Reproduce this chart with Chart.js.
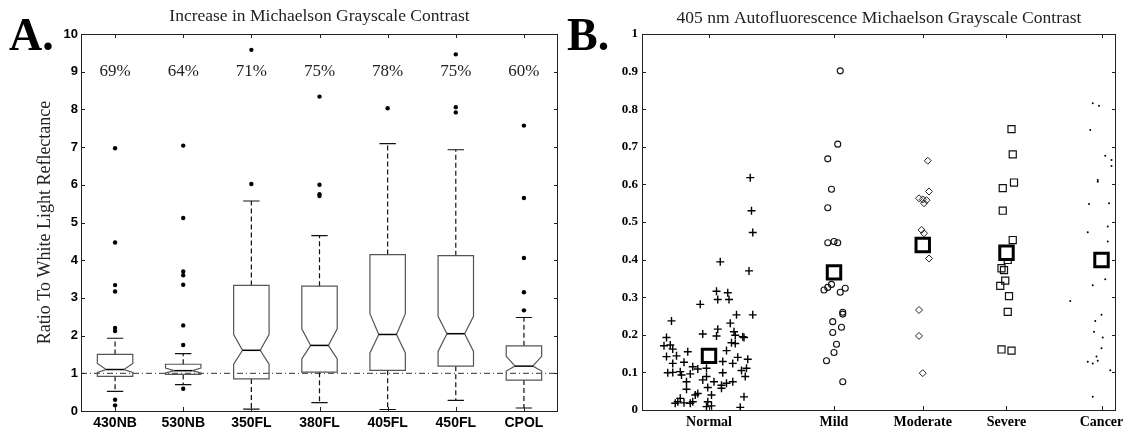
<!DOCTYPE html>
<html>
<head>
<meta charset="utf-8">
<script src="https://cdn.jsdelivr.net/npm/chart.js@4.4.0/dist/chart.umd.min.js"></script>
<style>
  html, body { margin: 0; padding: 0; background: #fff; }
  #wrap { position: relative; width: 1130px; height: 432px; }
  .panel { position: absolute; top: 0; width: 565px; height: 432px; }
  #panelA { left: 0; }
  #panelB { left: 565px; }
</style>
</head>
<body>
<div id="wrap">
  <div class="panel" id="panelA"><canvas id="chartA"></canvas></div>
  <div class="panel" id="panelB"><canvas id="chartB"></canvas></div>
</div>
<script>
// Panel A: notched box plots (ratio to white light reflectance)
const boxLabels = ['430NB', '530NB', '350FL', '380FL', '405FL', '450FL', 'CPOL'];
const pctLabels = ['69%', '64%', '71%', '75%', '78%', '75%', '60%'];
const q1 = [0.92, 0.97, 0.85, 1.03, 1.08, 1.19, 0.82];
const median = [1.10, 1.07, 1.61, 1.74, 2.03, 2.05, 1.19];
const q3 = [1.50, 1.24, 3.33, 3.31, 4.15, 4.12, 1.73];
const notchLo = [1.02, 1.01, 1.24, 1.38, 1.54, 1.58, 1.06];
const notchHi = [1.26, 1.14, 2.03, 2.18, 2.58, 2.51, 1.45];
const whiskerLo = [0.52, 0.70, 0.05, 0.22, 0.04, 0.28, 0.08];
const whiskerHi = [1.93, 1.52, 5.57, 4.65, 7.09, 6.93, 2.48];
const outliers = [
  [6.97, 4.47, 3.34, 3.17, 2.20, 2.12, 0.30, 0.15],
  [7.04, 5.12, 3.70, 3.60, 3.35, 2.27, 1.75, 0.59],
  [9.58, 6.02],
  [8.34, 6.00, 5.75, 5.70],
  [8.03],
  [9.46, 8.06, 7.92],
  [7.57, 5.65, 4.06, 3.15, 2.67]
];

// Panel B: 405 nm autofluorescence contrast per group
const groupNames = ['Normal', 'Mild', 'Moderate', 'Severe', 'Cancer'];
const groupX = [1, 2, 2.71, 3.38, 4.14];
const groupMean = [0.144, 0.366, 0.439, 0.418, 0.399];
const normalPts = [
  [1.33, 0.618], [1.34, 0.530], [1.35, 0.472], [1.09, 0.394], [1.32, 0.370], [1.06, 0.316],
  [1.15, 0.312], [1.07, 0.294], [1.16, 0.294], [0.93, 0.281], [0.70, 0.237], [1.22, 0.253],
  [1.35, 0.253], [1.17, 0.231], [1.07, 0.215], [0.95, 0.202], [1.06, 0.197], [1.20, 0.208],
  [1.21, 0.199], [1.27, 0.195], [1.28, 0.193], [0.66, 0.193], [0.64, 0.171], [0.69, 0.173],
  [0.71, 0.162], [1.21, 0.177], [1.18, 0.179], [1.14, 0.158], [0.83, 0.155], [0.74, 0.144],
  [0.66, 0.142], [1.23, 0.140], [1.31, 0.135], [1.11, 0.129], [0.71, 0.124], [0.80, 0.127],
  [1.19, 0.124], [0.87, 0.115], [0.91, 0.109], [0.98, 0.111], [1.11, 0.099], [1.26, 0.105],
  [1.30, 0.111], [0.67, 0.099], [0.71, 0.100], [0.77, 0.102], [0.78, 0.093], [0.85, 0.096],
  [1.29, 0.089], [0.98, 0.089], [0.95, 0.080], [0.82, 0.075], [1.04, 0.075], [1.19, 0.075],
  [1.14, 0.071], [1.10, 0.066], [0.99, 0.060], [1.10, 0.058], [0.82, 0.055], [1.28, 0.035],
  [0.91, 0.044], [0.89, 0.040], [1.02, 0.040], [0.77, 0.031], [0.75, 0.022], [0.80, 0.019],
  [0.85, 0.018], [0.87, 0.022], [0.73, 0.018], [0.99, 0.022], [0.98, 0.009], [1.02, 0.011],
  [1.25, 0.007]
];
const mildPts = [
  [2.05, 0.902], [2.03, 0.707], [1.95, 0.668], [1.98, 0.587], [1.95, 0.538], [1.95, 0.445],
  [2.00, 0.448], [2.03, 0.445], [1.92, 0.319], [1.95, 0.326], [1.98, 0.334], [2.05, 0.313],
  [2.09, 0.324], [2.07, 0.260], [2.07, 0.255], [1.99, 0.235], [2.06, 0.220], [1.99, 0.206],
  [2.02, 0.175], [2.00, 0.153], [1.94, 0.131], [2.07, 0.075]
];
const moderatePts = [
  [2.75, 0.663], [2.76, 0.581], [2.68, 0.563], [2.71, 0.560], [2.74, 0.558], [2.72, 0.550],
  [2.70, 0.479], [2.72, 0.470], [2.76, 0.403], [2.68, 0.266], [2.68, 0.197], [2.71, 0.098]
];
const severePts = [
  [3.42, 0.747], [3.43, 0.680], [3.44, 0.605], [3.35, 0.590], [3.35, 0.530], [3.43, 0.452],
  [3.39, 0.399], [3.34, 0.377], [3.36, 0.372], [3.37, 0.344], [3.33, 0.330], [3.40, 0.303],
  [3.39, 0.261], [3.34, 0.161], [3.42, 0.158]
];
const cancerPts = [
  [4.07, 0.816], [4.12, 0.809], [4.05, 0.745], [4.17, 0.676], [4.22, 0.665], [4.22, 0.649],
  [4.11, 0.612], [4.11, 0.607], [4.04, 0.548], [4.20, 0.550], [4.03, 0.473], [4.19, 0.488],
  [4.19, 0.448], [4.07, 0.332], [4.17, 0.348], [3.89, 0.290], [4.14, 0.253], [4.09, 0.237],
  [4.08, 0.208], [4.15, 0.193], [4.14, 0.164], [4.10, 0.142], [4.03, 0.128], [4.07, 0.124],
  [4.11, 0.131], [4.21, 0.106], [4.07, 0.035]
];

const SERIF = '"Liberation Serif", "Times New Roman", serif';
const SANS = '"Liberation Sans", Arial, sans-serif';

const toXY = pts => pts.map(p => ({ x: p[0], y: p[1] }));

// box around the plot with MATLAB-style inward ticks
const framePlugin = {
  id: 'frame',
  afterDraw(chart) {
    const { ctx, chartArea: a, scales: { x, y } } = chart;
    ctx.save();
    ctx.strokeStyle = '#222';
    ctx.lineWidth = 1;
    ctx.strokeRect(a.left + 0.5, a.top + 0.5, a.right - a.left - 1, a.bottom - a.top);
    ctx.beginPath();
    y.ticks.forEach(t => {
      const p = Math.round(y.getPixelForValue(t.value)) + 0.5;
      ctx.moveTo(a.left, p); ctx.lineTo(a.left + 4, p);
      ctx.moveTo(a.right, p); ctx.lineTo(a.right - 4, p);
    });
    x.ticks.forEach(t => {
      const p = Math.round(x.getPixelForValue(t.value)) + 0.5;
      ctx.moveTo(p, a.top); ctx.lineTo(p, a.top + 4);
      ctx.moveTo(p, a.bottom); ctx.lineTo(p, a.bottom - 4);
    });
    ctx.stroke();
    ctx.restore();
  }
};

const boxPlugin = {
  id: 'boxes',
  beforeDatasetsDraw(chart) {
    const { ctx, chartArea: a, scales: { x, y } } = chart;
    const unit = x.getPixelForValue(1) - x.getPixelForValue(0);
    const hw = unit * 0.26, capW = unit * 0.12, inset = hw * 0.5;
    const py = v => y.getPixelForValue(v);
    ctx.save();
    // reference line at ratio = 1
    ctx.strokeStyle = '#333';
    ctx.lineWidth = 1;
    ctx.setLineDash([6, 3, 1, 3]);
    ctx.beginPath();
    ctx.moveTo(a.left, py(1)); ctx.lineTo(a.right, py(1));
    ctx.stroke();

    boxLabels.forEach((_, i) => {
      const cx = x.getPixelForValue(i + 1);
      // whiskers
      ctx.strokeStyle = '#111';
      ctx.lineWidth = 1.2;
      ctx.setLineDash([5, 3]);
      ctx.beginPath();
      ctx.moveTo(cx, py(q3[i])); ctx.lineTo(cx, py(whiskerHi[i]));
      ctx.moveTo(cx, py(q1[i])); ctx.lineTo(cx, py(whiskerLo[i]));
      ctx.stroke();
      ctx.setLineDash([]);
      ctx.beginPath();
      ctx.moveTo(cx - capW, py(whiskerHi[i])); ctx.lineTo(cx + capW, py(whiskerHi[i]));
      ctx.moveTo(cx - capW, py(whiskerLo[i])); ctx.lineTo(cx + capW, py(whiskerLo[i]));
      ctx.stroke();
      // notched box
      ctx.strokeStyle = '#555';
      ctx.lineWidth = 1.2;
      ctx.beginPath();
      ctx.moveTo(cx - hw, py(q3[i]));
      ctx.lineTo(cx + hw, py(q3[i]));
      ctx.lineTo(cx + hw, py(notchHi[i]));
      ctx.lineTo(cx + hw - inset, py(median[i]));
      ctx.lineTo(cx + hw, py(notchLo[i]));
      ctx.lineTo(cx + hw, py(q1[i]));
      ctx.lineTo(cx - hw, py(q1[i]));
      ctx.lineTo(cx - hw, py(notchLo[i]));
      ctx.lineTo(cx - hw + inset, py(median[i]));
      ctx.lineTo(cx - hw, py(notchHi[i]));
      ctx.closePath();
      ctx.stroke();
      // median
      ctx.strokeStyle = '#000';
      ctx.lineWidth = 1.5;
      ctx.beginPath();
      ctx.moveTo(cx - hw + inset, py(median[i])); ctx.lineTo(cx + hw - inset, py(median[i]));
      ctx.stroke();
    });
    ctx.restore();
  }
};

const textA = {
  id: 'textA',
  afterDraw(chart) {
    const { ctx, chartArea: a, scales: { x, y } } = chart;
    ctx.save();
    ctx.fillStyle = '#000';
    ctx.font = 'bold 46px ' + SERIF;
    ctx.textAlign = 'left';
    ctx.textBaseline = 'alphabetic';
    ctx.fillText('A.', 9, 50);
    ctx.textAlign = 'center';
    ctx.textBaseline = 'middle';
    ctx.fillStyle = '#222';
    ctx.font = '17.5px ' + SERIF;
    ctx.fillText('Increase in Michaelson Grayscale Contrast', (a.left + a.right) / 2, 16);
    ctx.font = '17px ' + SERIF;
    pctLabels.forEach((t, i) => ctx.fillText(t, x.getPixelForValue(i + 1), y.getPixelForValue(9)));
    ctx.translate(45, (a.top + a.bottom) / 2);
    ctx.rotate(-Math.PI / 2);
    ctx.font = '18px ' + SERIF;
    ctx.fillText('Ratio To White Light Reflectance', 0, 0);
    ctx.restore();
  }
};

const textB = {
  id: 'textB',
  afterDraw(chart) {
    const { ctx, chartArea: a } = chart;
    ctx.save();
    ctx.fillStyle = '#000';
    ctx.font = 'bold 46px ' + SERIF;
    ctx.textAlign = 'left';
    ctx.textBaseline = 'alphabetic';
    ctx.fillText('B.', 2, 50);
    ctx.textAlign = 'center';
    ctx.textBaseline = 'middle';
    ctx.fillStyle = '#222';
    ctx.font = '17.5px ' + SERIF;
    ctx.fillText('405 nm Autofluorescence Michaelson Grayscale Contrast', (a.left + a.right) / 2, 18);
    ctx.restore();
  }
};

new Chart(document.getElementById('chartA'), {
  type: 'scatter',
  data: {
    datasets: [{
      data: outliers.flatMap((arr, i) => arr.map(v => ({ x: i + 1, y: v }))),
      pointStyle: 'circle',
      pointRadius: 2.2,
      backgroundColor: '#000',
      borderWidth: 0
    }]
  },
  options: {
    responsive: true,
    maintainAspectRatio: false,
    animation: false,
    layout: { padding: { top: 34, right: 7, left: 0, bottom: 0 } },
    plugins: { legend: { display: false }, tooltip: { enabled: false } },
    scales: {
      x: {
        type: 'linear',
        min: 0.5,
        max: 7.5,
        grid: { display: false, drawTicks: false },
        border: { display: false },
        afterBuildTicks: s => { s.ticks = boxLabels.map((_, i) => ({ value: i + 1 })); },
        afterFit: s => { s.height = 21; },
        ticks: {
          padding: 4,
          color: '#000',
          font: { family: SANS, size: 14, weight: 'bold' },
          callback: (v, i) => boxLabels[i]
        }
      },
      y: {
        min: 0,
        max: 10,
        grid: { display: false, drawTicks: false },
        border: { display: false },
        afterFit: s => { s.width = 81; },
        ticks: {
          stepSize: 1,
          padding: 3,
          color: '#000',
          font: { family: SANS, size: 13, weight: 'bold' }
        }
      }
    }
  },
  plugins: [boxPlugin, framePlugin, textA]
});

new Chart(document.getElementById('chartB'), {
  type: 'scatter',
  data: {
    datasets: [
      {
        label: 'Mean',
        data: groupX.map((gx, i) => ({ x: gx, y: groupMean[i] })),
        pointStyle: 'rect', pointRadius: 9.5, borderWidth: 3,
        borderColor: '#000', backgroundColor: '#fff'
      },
      {
        label: 'Normal', data: toXY(normalPts),
        pointStyle: 'cross', pointRadius: 4, borderWidth: 1.4, borderColor: '#000'
      },
      {
        label: 'Mild', data: toXY(mildPts),
        pointStyle: 'circle', pointRadius: 3, borderWidth: 1.1,
        borderColor: '#111', backgroundColor: 'rgba(0,0,0,0)'
      },
      {
        label: 'Moderate', data: toXY(moderatePts),
        pointStyle: 'rectRot', pointRadius: 3.5, borderWidth: 1,
        borderColor: '#222', backgroundColor: 'rgba(0,0,0,0)'
      },
      {
        label: 'Severe', data: toXY(severePts),
        pointStyle: 'rect', pointRadius: 5, borderWidth: 1.2,
        borderColor: '#111', backgroundColor: 'rgba(0,0,0,0)'
      },
      {
        label: 'Cancer', data: toXY(cancerPts),
        pointStyle: 'circle', pointRadius: 1, borderWidth: 0, backgroundColor: '#000'
      }
    ]
  },
  options: {
    responsive: true,
    maintainAspectRatio: false,
    animation: false,
    layout: { padding: { top: 34, right: 14, left: 0, bottom: 0 } },
    plugins: { legend: { display: false }, tooltip: { enabled: false } },
    scales: {
      x: {
        type: 'linear',
        min: 0.464,
        max: 4.256,
        grid: { display: false, drawTicks: false },
        border: { display: false },
        afterBuildTicks: s => { s.ticks = groupX.map(v => ({ value: v })); },
        afterFit: s => { s.height = 22; },
        ticks: {
          padding: 4,
          color: '#000',
          font: { family: SERIF, size: 14, weight: 'bold' },
          callback: (v, i) => groupNames[i]
        }
      },
      y: {
        min: 0,
        max: 1,
        grid: { display: false, drawTicks: false },
        border: { display: false },
        afterFit: s => { s.width = 77; },
        ticks: {
          stepSize: 0.1,
          padding: 4,
          color: '#000',
          font: { family: SERIF, size: 13, weight: 'bold' },
          callback: v => String(+v.toFixed(1))
        }
      }
    }
  },
  plugins: [framePlugin, textB]
});
</script>
</body>
</html>
